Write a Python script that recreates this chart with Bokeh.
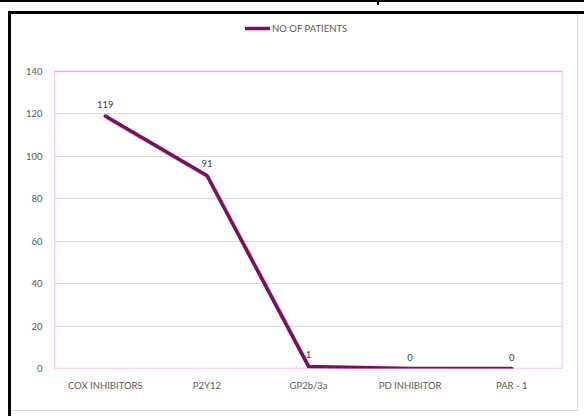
from bokeh.plotting import figure
from bokeh.models import (ColumnDataSource, FactorRange, Range1d, LabelSet,
                          Legend, LegendItem, FixedTicker, BoxAnnotation)
from bokeh.core.properties import value
from bokeh.transform import dodge
from bokeh.embed import file_html
from bokeh.resources import INLINE

# Antiplatelet drug classes and patient counts
categories = ["COX INHIBITORS", "P2Y12", "GP2b/3a", "PD INHIBITOR", "PAR - 1"]
patients = [119, 91, 1, 0, 0]
y_ticks = [0, 20, 40, 60, 80, 100, 120, 140]
series_name = "NO OF PATIENTS"

LINE = "#7c0b62"
PINK = "#f5a3e6"
GRID = "#d9d9d9"
TEXT = "#595959"
FONT = "Lato"

# the plotting frame runs from just under the page frame down to the x axis;
# the value axis itself stops at 140 and the legend sits in the headroom above
FRAME_TOP, AXIS_TOP, AXIS_BOTTOM = 14, 71, 368
y_max = y_ticks[-1]
y_end = y_max + (AXIS_TOP - FRAME_TOP) * y_max / (AXIS_BOTTOM - AXIS_TOP)

src = ColumnDataSource(dict(
    cat=categories,
    n=patients,
    shadow=[v - 0.8 for v in patients],
    lbl=[str(v) for v in patients],
))

p = figure(width=584, height=416, x_range=FactorRange(*categories),
           y_range=Range1d(0, y_end), output_backend="svg", toolbar_location=None,
           min_border_left=54, min_border_right=22, min_border_top=FRAME_TOP,
           min_border_bottom=416 - AXIS_BOTTOM)
p.background_fill_color = "white"
p.border_fill_alpha = 0
p.outline_line_color = None

# page frame drawn behind the transparent border area
frame_layers = [
    "linear-gradient(#000,#000) 0px 0px / 584px 2px no-repeat",
    "linear-gradient(#000,#000) 377px 0px / 2px 5px no-repeat",
    "linear-gradient(#000,#000) 8px 11px / 576px 3px no-repeat",
    "linear-gradient(#000,#000) 8px 11px / 3px 405px no-repeat",
    "linear-gradient(#d9d9d9,#d9d9d9) 577px 14px / 1px 397px no-repeat",
    "linear-gradient(#d9d9d9,#d9d9d9) 11px 410px / 567px 1px no-repeat",
    "#ffffff",
]
p.styles = {"background": ", ".join(frame_layers)}

# axes
p.yaxis.ticker = FixedTicker(ticks=y_ticks)
for ax in (p.xaxis[0], p.yaxis[0]):
    ax.axis_line_color = None
    ax.major_tick_line_color = None
    ax.minor_tick_line_color = None
    ax.major_label_text_font = FONT
    ax.major_label_text_font_size = "9.5px"
    ax.major_label_text_color = TEXT
p.xaxis.major_label_standoff = 5
p.yaxis.major_label_standoff = 6
p.xgrid.grid_line_color = None
p.ygrid.grid_line_color = GRID
p.ygrid.grid_line_width = 1

# pink plot-area border, 0..140
p.add_layout(BoxAnnotation(bottom=0, top=y_max, fill_alpha=0,
                           line_color=PINK, line_alpha=1, line_width=1.5,
                           level="underlay"))

# soft shadow under the series line
p.line(x=dodge("cat", 0.015, range=p.x_range), y="shadow", source=src,
       line_color="black", line_alpha=0.22, line_width=4, line_join="round")
r = p.line(x="cat", y="n", source=src, line_color=LINE, line_width=3.5,
           line_join="round", line_cap="round")

labels = LabelSet(x="cat", y="n", text="lbl", source=src, text_align="center",
                  text_baseline="bottom", y_offset=8, text_font=value(FONT),
                  text_font_size="9.5px", text_color="#404040")
p.add_layout(labels)

legend = Legend(items=[LegendItem(label=series_name, renderers=[r])],
                location=(191, AXIS_BOTTOM - 34), orientation="horizontal",
                padding=0, margin=0, spacing=0,
                glyph_width=25, glyph_height=12, label_standoff=2,
                label_height=12,
                label_text_font=FONT, label_text_font_size="9.5px",
                label_text_color=TEXT, border_line_color=None,
                background_fill_alpha=0)
p.add_layout(legend, "center")

open("out.html", "w").write(file_html(p, INLINE))
